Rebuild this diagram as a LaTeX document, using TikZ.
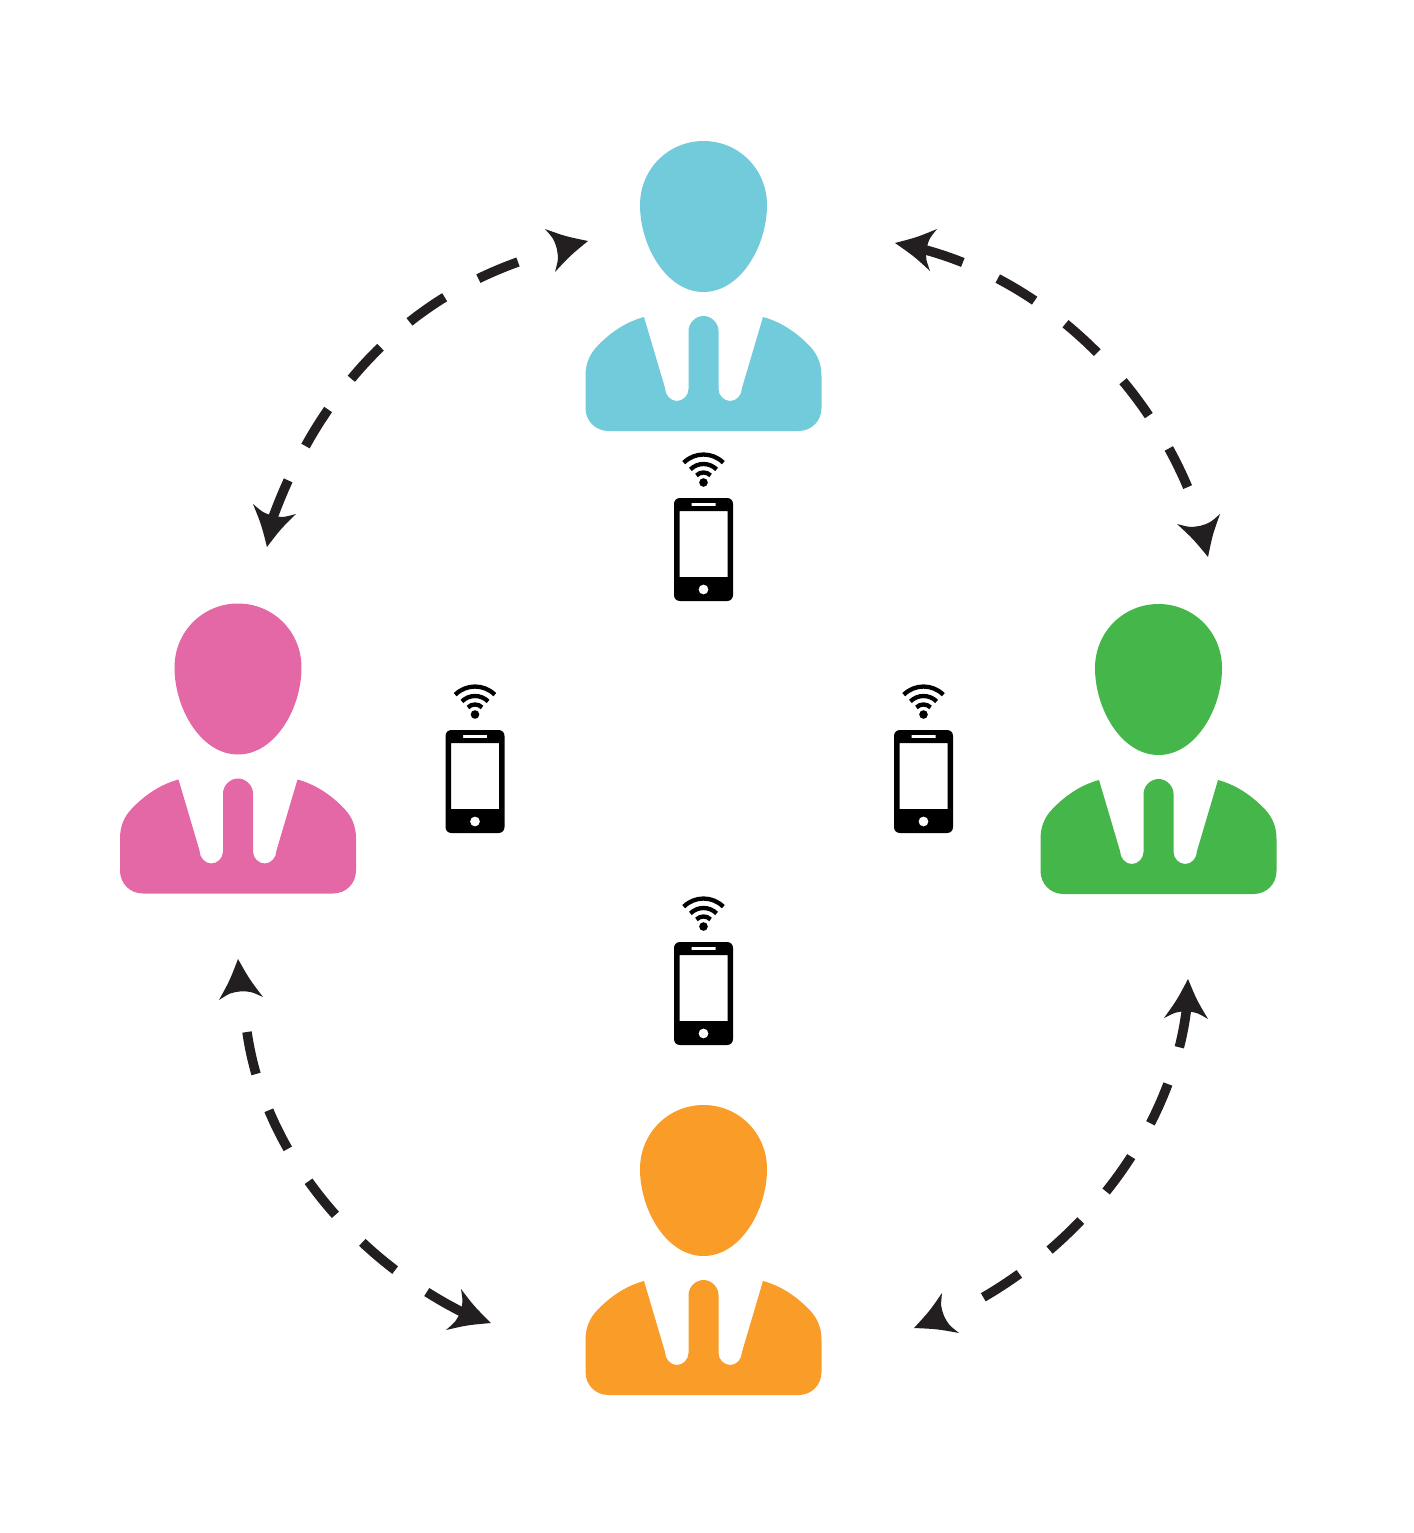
\documentclass[tikz,border=0pt]{standalone}
\usetikzlibrary{calc}
\definecolor{pcyan}{HTML}{72CBDA}
\definecolor{ppink}{HTML}{E468A6}
\definecolor{pgreen}{HTML}{45B649}
\definecolor{porange}{HTML}{FA9C28}
\definecolor{arrowink}{HTML}{231F20}
\newcommand{\headshape}[4]{% name, tip, corner, corner
  \coordinate (#1T) at #2; \coordinate (#1A) at #3; \coordinate (#1B) at #4;
  \coordinate (#1M) at ($(#1A)!.5!(#1B)$);
  \coordinate (#1N) at ($(#1T)!.82!(#1M)$);
  \fill[arrowink] (#1T) .. controls ($($(#1T)!.5!(#1A)$)!.10!(#1N)$) .. (#1A)
     .. controls ($($(#1A)!.5!(#1N)$)!.08!(#1T)$) .. (#1N)
     .. controls ($($(#1B)!.5!(#1N)$)!.08!(#1T)$) .. (#1B)
     .. controls ($($(#1T)!.5!(#1B)$)!.10!(#1N)$) .. cycle;
}
\tikzset{
  x=1pt,y=-1pt,
  dashlink/.style={draw=arrowink,line width=9.5pt,line cap=butt,dash pattern=on 43pt off 38.5pt},
  wifiarc/.style={draw=black,line width=4.3pt},
  pics/person/.style={code={
    \fill[#1] (0,0) .. controls (35,0) and (63.5,28) .. (63.5,64)
      .. controls (63.5,105) and (37,151) .. (0,151)
      .. controls (-37,151) and (-63.5,105) .. (-63.5,64)
      .. controls (-63.5,28) and (-35,0) .. (0,0) -- cycle;
    \fill[#1] (-59.5,176) .. controls (-76,180.5) and (-92,190) .. (-107,206)
      .. controls (-114,213.5) and (-118,223) .. (-118,235) -- (-118,267)
      .. controls (-118,280) and (-108,290) .. (-95,290) -- (95,290)
      .. controls (108,290) and (118,280) .. (118,267) -- (118,235)
      .. controls (118,223) and (114,213.5) .. (107,206)
      .. controls (92,190) and (76,180.5) .. (59.5,176) -- (38.5,247)
      .. controls (38.5,254) and (33,260) .. (26.8,260)
      .. controls (20.5,260) and (15,254.5) .. (15,248) -- (15,190)
      .. controls (15,182) and (8,175) .. (0,175)
      .. controls (-8,175) and (-15,182) .. (-15,190) -- (-15,248)
      .. controls (-15,254.5) and (-20.5,260) .. (-26.8,260)
      .. controls (-33,260) and (-38.5,254) .. (-38.5,247) -- cycle;
  }},
  pics/phone/.style={code={
    \fill[black,even odd rule] (-23.5,0) -- (23.5,0) .. controls (27,0) and (29.5,2.5) .. (29.5,6)
      -- (29.5,97) .. controls (29.5,100.5) and (27,103) .. (23.5,103) -- (-23.5,103)
      .. controls (-27,103) and (-29.5,100.5) .. (-29.5,97) -- (-29.5,6)
      .. controls (-29.5,2.5) and (-27,0) .. (-23.5,0) -- cycle
      (-24,13) rectangle (24,79)
      (-12,4.8) rectangle (12,8.2)
      (5,91.5) .. controls (5,94.3) and (2.8,96.5) .. (0,96.5)
      .. controls (-2.8,96.5) and (-5,94.3) .. (-5,91.5)
      .. controls (-5,88.7) and (-2.8,86.5) .. (0,86.5)
      .. controls (2.8,86.5) and (5,88.7) .. (5,91.5) -- cycle;
    \begin{scope}[shift={(0,-15.5)}]
      \fill[black] (0,0) circle[radius=4.3pt];
      \draw[wifiarc] (-19.8,-19.8) .. controls (-8.85,-30.7) and (8.85,-30.7) .. (19.8,-19.8);
      \draw[wifiarc] (-13.1,-13.1) .. controls (-5.85,-20.3) and (5.85,-20.3) .. (13.1,-13.1);
      \draw[wifiarc] (-7.1,-7.1) .. controls (-3.2,-11) and (3.2,-11) .. (7.1,-7.1);
    \end{scope}
  }}
}
\begin{document}
\begin{tikzpicture}
\useasboundingbox (0,0) rectangle (1413,1533);
\pic at (703.5,141) {person=pcyan};
\pic at (238,603.5) {person=ppink};
\pic at (1158.5,604) {person=pgreen};
\pic at (703.5,1105) {person=porange};
\pic at (703.5,498) {phone};
\pic at (475,730) {phone};
\pic at (923.5,730) {phone};
\pic at (703.5,942) {phone};
% connectors
\coordinate (tlS) at (518,262); \coordinate (tlE) at (272,520);
\coordinate (trS) at (922,249); \coordinate (trE) at (1188,488);
\coordinate (blS) at (247,1032); \coordinate (blE) at (470,1316);
\coordinate (brS) at (1187,1005); \coordinate (brE) at (982,1298);
\path[dashlink] (tlS) .. controls (403,303) and (318,393) .. (tlE);
\path[dashlink] (trS) .. controls (1040,280) and (1140,374) .. (trE);
\path[dashlink] (blS) .. controls (264,1151) and (352,1259) .. (blE);
\path[dashlink] (brS) .. controls (1174,1122) and (1093,1234) .. (brE);
\headshape{a}{(588,241)}{(545,229)}{(555,272)}
\headshape{b}{(267,547)}{(253,504)}{(296,514)}
\headshape{c}{(895,243)}{(937,229)}{(930,271)}
\headshape{d}{(1208,557)}{(1177,524)}{(1220,514)}
\headshape{e}{(238,959)}{(219,1000)}{(263,997)}
\headshape{f}{(491,1323)}{(461,1289)}{(446,1330)}
\headshape{g}{(1188,979)}{(1164,1018)}{(1208,1019)}
\headshape{h}{(914,1328)}{(942,1293)}{(959,1333)}
\end{tikzpicture}
\end{document}
